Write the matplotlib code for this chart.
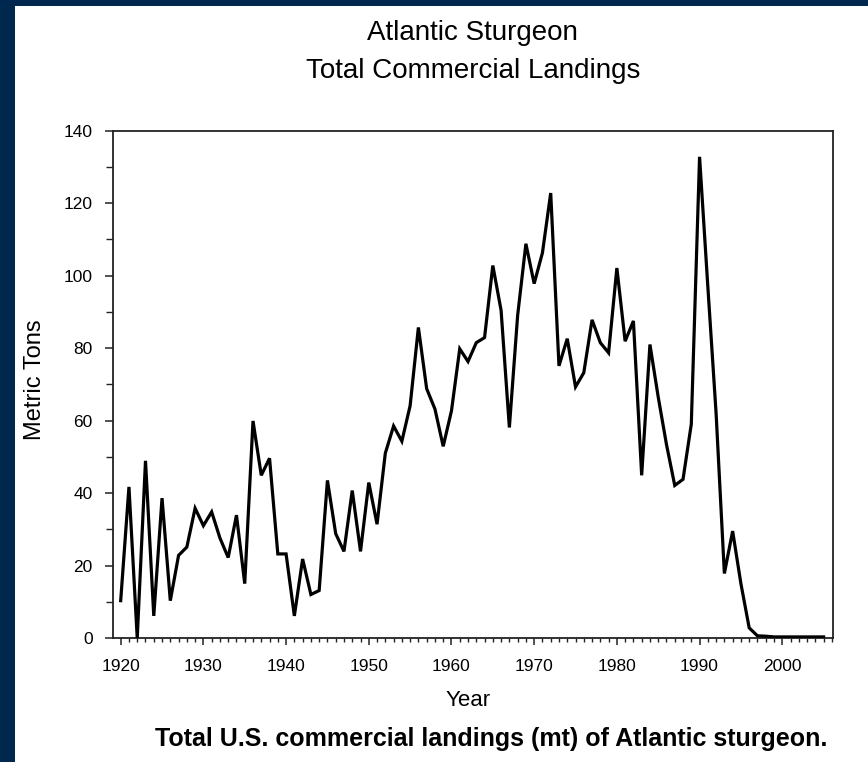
import matplotlib
matplotlib.use("Agg")
import matplotlib.pyplot as plt
from matplotlib.patches import Rectangle
from matplotlib.ticker import MultipleLocator
from matplotlib import font_manager

# ---------------- data ----------------
years = list(range(1920, 2006))
landings = [
    10.3, 41.7, 0.0, 48.9, 6.1, 38.6, 10.3, 22.8, 25.1, 35.8,   # 1920-1929
    31.0, 34.8, 27.6, 22.2, 33.9, 15.0, 59.9, 44.9, 49.6, 23.2,  # 1930-1939
    23.2, 6.1, 21.8, 12.0, 13.1, 43.5, 28.8, 23.9, 40.7, 23.9,   # 1940-1949
    42.9, 31.4, 51.0, 58.5, 54.3, 64.1, 85.7, 68.8, 63.2, 52.9,  # 1950-1959
    62.7, 79.8, 76.3, 81.5, 82.9, 102.8, 90.4, 58.1, 89.0, 108.8,  # 1960-1969
    97.8, 106.3, 122.8, 75.1, 82.6, 69.3, 73.2, 87.8, 81.5, 78.7,  # 1970-1979
    102.1, 81.9, 87.5, 44.9, 81.0, 66.5, 53.4, 42.1, 43.8, 59.0,   # 1980-1989
    132.8, 97.0, 62.0, 17.8, 29.5, 15.0, 2.8, 0.6, 0.5, 0.3,       # 1990-1999
    0.3, 0.3, 0.3, 0.3, 0.3, 0.3,                                  # 2000-2005
]
x_ticks = [1920, 1930, 1940, 1950, 1960, 1970, 1980, 1990, 2000]
y_ticks = [0, 20, 40, 60, 80, 100, 120, 140]

title_lines = ["Atlantic Sturgeon", "Total Commercial Landings"]
x_label = "Year"
y_label = "Metric Tons"
caption = "Total U.S. commercial landings (mt) of Atlantic sturgeon."

# ---------------- fonts ----------------
avail = {f.name for f in font_manager.fontManager.ttflist}
fam = [f for f in ["Liberation Sans Narrow", "Liberation Sans", "DejaVu Sans"] if f in avail]
plt.rcParams["font.family"] = fam

W, H = 868, 762
fig = plt.figure(figsize=(W / 100, H / 100), dpi=100)
fig.patch.set_facecolor("#00284F")
# white panel
fig.patches.append(Rectangle((15 / W, 0), 1 - 15 / W, 1 - 6 / H,
                             transform=fig.transFigure, facecolor="white",
                             edgecolor="none", zorder=-10))

left, right, top, bottom = 113, 832.7, 130.7, 638
ax = fig.add_axes([left / W, 1 - bottom / H, (right - left) / W, (bottom - top) / H])
ax.set_facecolor("white")

ax.plot(years, landings, color="black", lw=2.3, solid_joinstyle="miter", zorder=3)

ax.set_xlim(1919.07, 2006.1)
ax.set_ylim(0, 140)
ax.set_xticks(x_ticks)
ax.set_xticklabels([str(v) for v in x_ticks])
ax.xaxis.set_minor_locator(MultipleLocator(1))
ax.set_yticks(y_ticks)
ax.set_yticklabels([str(v) for v in y_ticks])
ax.yaxis.set_minor_locator(MultipleLocator(10))

for s in ax.spines.values():
    s.set_color("#222222")
    s.set_linewidth(1.3)

ax.tick_params(axis="x", which="major", direction="out", length=5, width=1.1,
               color="#222222", labelsize=12.5, pad=10)
ax.tick_params(axis="x", which="minor", direction="out", length=2.8, width=1.0,
               color="#222222")
ax.tick_params(axis="y", which="major", direction="out", length=5.5, width=1.1,
               color="#222222", labelsize=12.5, pad=9)
ax.tick_params(axis="y", which="minor", direction="out", length=5.0, width=1.0,
               color="#222222")

cx = (left + right) / 2 / W
fig.text(cx, 1 - 40 / H, title_lines[0], ha="center", va="baseline", fontsize=20, color="black")
fig.text(cx, 1 - 78 / H, title_lines[1], ha="center", va="baseline", fontsize=20, color="black")

fig.text(35 / W, 1 - 380 / H, y_label, rotation=90, ha="center", va="center", fontsize=17)
fig.text(468 / W, 1 - 700 / H, x_label, ha="center", va="center", fontsize=16)

fig.text(491 / W, 1 - 746 / H, caption, ha="center", va="baseline", fontsize=18,
         fontweight="bold")

fig.savefig("out.png", dpi=100, facecolor=fig.get_facecolor())
